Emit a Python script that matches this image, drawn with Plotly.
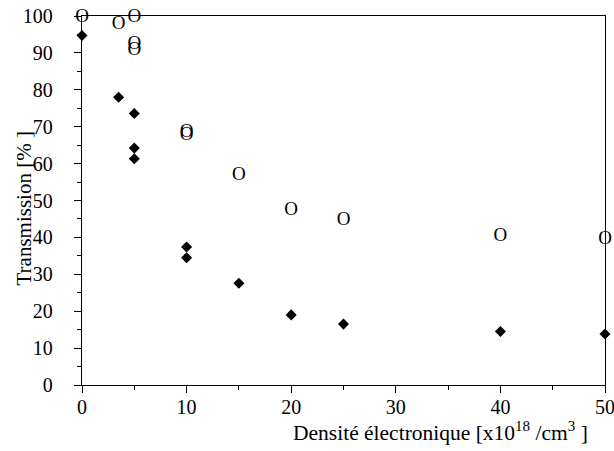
import plotly.graph_objects as go

# Data
x_filled = [0, 3.5, 5, 5, 5, 10, 10, 15, 20, 25, 40, 50]
y_filled = [94.7, 78, 73.6, 64.2, 61.3, 37.4, 34.5, 27.6, 19.0, 16.5, 14.5, 13.8]

x_open = [0, 3.5, 5, 5, 5, 10, 10, 15, 20, 25, 40, 50]
y_open = [99.8, 97.8, 99.8, 92.3, 90.6, 68.6, 67.8, 56.9, 47.4, 44.7, 40.4, 39.6]

x_ticks = [0, 10, 20, 30, 40, 50]
y_ticks = [0, 10, 20, 30, 40, 50, 60, 70, 80, 90, 100]

FONT = "Liberation Serif, Times New Roman, serif"

fig = go.Figure()
fig.add_trace(go.Scatter(
    x=x_filled, y=y_filled, mode="markers",
    marker=dict(symbol="diamond", size=8.5, color="black"),
    cliponaxis=False, showlegend=False))
fig.add_trace(go.Scatter(
    x=x_open, y=y_open, mode="text", text=["O"] * len(x_open),
    textposition="middle center",
    textfont=dict(family=FONT, size=19, color="black"),
    cliponaxis=False, showlegend=False))

axis_common = dict(
    showgrid=False, zeroline=False, showline=True, linecolor="black",
    linewidth=1.3, mirror=True, ticks="outside", ticklen=7, tickwidth=1,
    tickcolor="black", tickfont=dict(family=FONT, size=20, color="black"),
    automargin=False, ticklabeloverflow="allow",
)

fig.update_xaxes(range=[0, 50], tickvals=x_ticks, ticktext=[str(v) for v in x_ticks],
                 minor=dict(ticks="outside", ticklen=4, dtick=5, tick0=0, tickcolor="black"),
                 ticklabelstandoff=-3, **axis_common)
fig.update_yaxes(range=[0, 100], tickvals=y_ticks, ticktext=[str(v) for v in y_ticks],
                 minor=dict(ticks="outside", ticklen=4, dtick=5, tick0=0, tickcolor="black"),
                 ticklabelstandoff=17, **axis_common)

fig.add_annotation(
    text="Densité électronique [x10<sup>18</sup> /cm<sup>3</sup> ]",
    xref="paper", yref="paper", x=0.971, y=0, xanchor="right", yanchor="top",
    yshift=-31, showarrow=False, font=dict(family=FONT, size=21.5, color="black"))
fig.add_annotation(
    text="Transmission [% ]", textangle=-90,
    xref="paper", yref="paper", x=0, y=0.5, xanchor="center", yanchor="middle",
    xshift=-59, yshift=-8, showarrow=False, font=dict(family=FONT, size=21, color="black"))

fig.update_layout(
    width=614, height=451,
    margin=dict(l=82, r=9, t=16, b=66),
    paper_bgcolor="white", plot_bgcolor="white",
    font=dict(family=FONT, color="black"),
)

fig.write_html("out.html")
